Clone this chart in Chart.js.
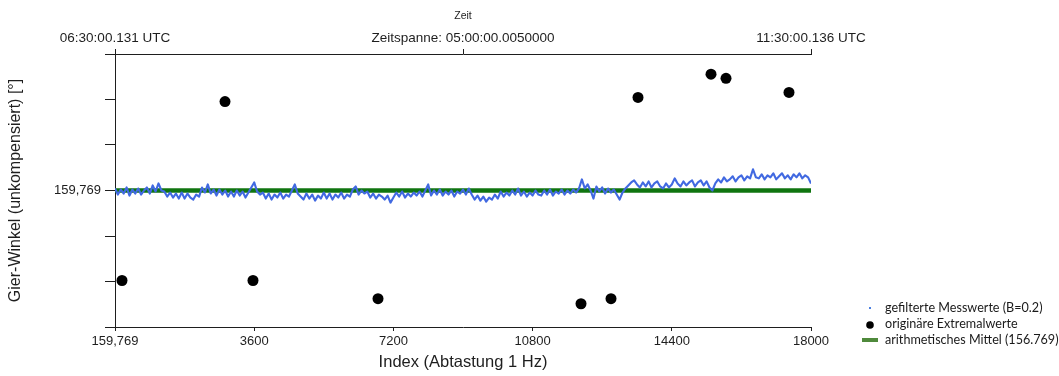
<!DOCTYPE html>
<html><head><meta charset="utf-8">
<script src="https://cdn.jsdelivr.net/npm/chart.js@4/dist/chart.umd.min.js"></script>
<style>html,body{margin:0;padding:0;background:#fff}#wrap{width:1059px;height:376px;position:relative}</style>
</head><body><div id="wrap"><canvas id="c" width="1059" height="376"></canvas></div>
<script>
// ---- data ----
const SAMPLE_STEP = 75; // index spacing of the read-off samples
const filteredValues = [
159.7692,159.7686,159.7691,159.7687,159.7693,159.7685,159.7691,159.7687,
159.7692,159.7686,159.7690,159.7693,159.7687,
159.7695,159.7689,159.7697,159.7690,
159.7689,159.7684,159.7688,159.7683,159.7687,159.7682,
159.7688,159.7682,159.7687,159.7683,159.7681,159.7686,159.7684,
159.7693,159.7688,159.7696,159.7687,159.7691,
159.7685,159.7691,159.7686,159.7690,159.7684,159.7689,
159.7684,159.7690,159.7685,159.7689,159.7683,159.7688,
159.7693,159.7698,159.7689,159.7686,
159.7688,159.7682,159.7687,159.7681,159.7686,159.7683,159.7688,159.7682,159.7686,159.7684,
159.7690,159.7696,159.7687,159.7684,
159.7681,159.7687,159.7682,159.7686,159.7680,159.7685,159.7682,
159.7688,159.7682,159.7687,159.7681,159.7686,159.7683,159.7688,159.7682,159.7686,159.7684,
159.7691,159.7694,159.7686,159.7690,159.7687,
159.7689,159.7683,159.7687,159.7682,159.7686,159.7684,159.7681,159.7685,159.7678,
159.7683,159.7688,159.7684,159.7689,159.7683,159.7687,159.7684,159.7688,159.7685,159.7689,159.7684,159.7690,159.7696,
159.7685,159.7690,159.7686,159.7691,159.7685,159.7689,159.7686,159.7690,159.7684,159.7689,159.7687,159.7691,159.7686,159.7692,
159.7686,159.7681,159.7685,159.7680,159.7684,159.7679,159.7683,159.7681,159.7686,159.7682,
159.7689,159.7684,159.7688,159.7685,159.7690,159.7686,159.7692,159.7685,159.7689,159.7684,159.7688,159.7685,159.7690,159.7686,
159.7685,159.7690,159.7686,159.7691,159.7685,159.7689,159.7687,159.7691,159.7686,159.7690,159.7687,159.7691,159.7688,159.7692,
159.7701,
159.7692,159.7696,159.7690,159.7682,159.7694,159.7689,
159.7693,159.7687,159.7692,159.7688,159.7691,159.7686,159.7681,159.7688,
159.7692,159.7695,159.7698,159.7700,159.7696,
159.7693,159.7698,159.7694,159.7699,159.7693,159.7697,159.7699,159.7694,159.7692,159.7697,159.7693,
159.7696,159.7702,159.7697,159.7694,159.7699,159.7695,159.7698,159.7700,159.7694,159.7698,
159.7700,159.7695,159.7699,159.7693,159.7690,159.7697,159.7701,159.7698,159.7703,159.7699,
159.7701,159.7704,159.7699,159.7703,159.7705,159.7700,159.7704,159.7702,159.7711,159.7703,
159.7702,159.7706,159.7701,159.7705,159.7703,159.7707,159.7701,159.7704,159.7707,159.7702,
159.7705,159.7701,159.7706,159.7703,159.7707,159.7702,159.7705,159.7703,159.7697
];
const extremaIndex  = [181, 2845, 3569, 6802, 12052, 12828, 13526, 15414, 15802, 17431];
const extremaValues = [159.7601, 159.7778, 159.7601, 159.7583, 159.7578, 159.7583, 159.7782, 159.7805, 159.7801, 159.7787];
const meanValue = 159.769;
const xTickValues = [0, 3600, 7200, 10800, 14400, 18000];
const xTickLabels = ['159,769', '3600', '7200', '10800', '14400', '18000'];
const topTickValues = [0, 9000, 18000];
const topTickLabels = ['06:30:00.131 UTC', 'Zeitspanne: 05:00:00.0050000', '11:30:00.136 UTC'];
const yTickValues = [159.7555, 159.7600, 159.7645, 159.7690, 159.7735, 159.7780, 159.7825];
const yTickLabels = ['', '', '', '159,769', '', '', ''];
const legendLabels = ['gefilterte Messwerte (B=0.2)', 'originäre Extremalwerte', 'arithmetisches Mittel (156.769)'];

// ---- build ----
const filteredPoints = filteredValues.map((v, i) => ({x: i * SAMPLE_STEP, y: v}));
const extremaPoints = extremaIndex.map((x, i) => ({x: x, y: extremaValues[i]}));
const meanPoints = [{x: xTickValues[0], y: meanValue}, {x: xTickValues[xTickValues.length - 1], y: meanValue}];

const AX = '#1e1e1e';
const FONT = 'Liberation Sans';

const legendPlugin = {
  id: 'sideLegend',
  afterDraw(chart) {
    const ctx = chart.ctx;
    ctx.save();
    ctx.font = '12.6px Lato';
    ctx.textBaseline = 'middle';
    const tx = 885, ys = [308, 324, 340];
    ctx.fillStyle = '#4a7fe0';
    ctx.fillRect(869, ys[0] - 1, 2, 2);
    ctx.fillStyle = '#000';
    ctx.beginPath(); ctx.arc(870, ys[1] + 1, 3.8, 0, Math.PI * 2); ctx.fill();
    ctx.fillStyle = '#4f8a3c';
    ctx.fillRect(862, ys[2] - 2, 16, 4);
    ctx.fillStyle = '#1a1a1a';
    legendLabels.forEach((t, i) => ctx.fillText(t, tx, ys[i]));
    ctx.restore();
  }
};

new Chart(document.getElementById('c'), {
  type: 'line',
  data: {
    datasets: [
      {label: legendLabels[1], type: 'scatter', data: extremaPoints, showLine: false,
       pointRadius: 5.5, pointHoverRadius: 5.5, backgroundColor: '#000', borderColor: '#000', borderWidth: 0},
      {label: legendLabels[0], data: filteredPoints, borderColor: '#4169e1', borderWidth: 2.1,
       pointRadius: 0, tension: 0, fill: false, borderJoinStyle: 'round'},
      {label: legendLabels[2], data: meanPoints, borderColor: '#107510', borderWidth: 4.5,
       pointRadius: 0, tension: 0, fill: false, borderCapStyle: 'butt'}
    ]
  },
  options: {
    responsive: false,
    animation: false,
    devicePixelRatio: 1,
    layout: {padding: {left: 0, right: 248, top: 0, bottom: 0}},
    plugins: {legend: {display: false}, tooltip: {enabled: false}},
    scales: {
      x: {
        type: 'linear', position: 'bottom', min: 0, max: 18000,
        afterBuildTicks: s => { s.ticks = xTickValues.map(v => ({value: v})); },
        afterFit: s => { s.height = 49; },
        ticks: {autoSkip: false, maxRotation: 0, padding: 3, color: AX,
                font: {family: FONT, size: 13}, callback: (v, i) => xTickLabels[i]},
        grid: {drawOnChartArea: false, drawTicks: true, tickLength: 4, color: AX},
        border: {display: true, color: AX, width: 1},
        title: {display: true, text: 'Index (Abtastung 1 Hz)', color: AX,
                font: {family: FONT, size: 16.5}, padding: {top: 0, bottom: 4}}
      },
      x2: {
        type: 'linear', position: 'top', min: 0, max: 18000,
        afterBuildTicks: s => { s.ticks = topTickValues.map(v => ({value: v})); },
        afterFit: s => { s.height = 54; },
        ticks: {autoSkip: false, maxRotation: 0, padding: 3, color: AX,
                font: {family: FONT, size: 13.5}, callback: (v, i) => topTickLabels[i]},
        grid: {drawOnChartArea: false, drawTicks: true, tickLength: 5, color: AX},
        border: {display: true, color: AX, width: 1},
        title: {display: true, text: 'Zeit', color: AX,
                font: {family: FONT, size: 10.5}, padding: {top: 10, bottom: 0}}
      },
      y: {
        type: 'linear', position: 'left', min: yTickValues[0], max: yTickValues[yTickValues.length - 1],
        afterBuildTicks: s => { s.ticks = yTickValues.map(v => ({value: v})); },
        afterFit: s => { s.width = 115; },
        ticks: {autoSkip: false, padding: 4, color: AX,
                font: {family: FONT, size: 13}, callback: (v, i) => yTickLabels[i]},
        grid: {drawOnChartArea: false, drawTicks: true, tickLength: 10, color: AX},
        border: {display: true, color: AX, width: 1},
        title: {display: true, text: 'Gier-Winkel (unkompensiert) [°]', color: AX,
                font: {family: FONT, size: 16}, padding: {top: 6, bottom: 0}}
      }
    }
  },
  plugins: [legendPlugin]
});
</script>
</body></html>
